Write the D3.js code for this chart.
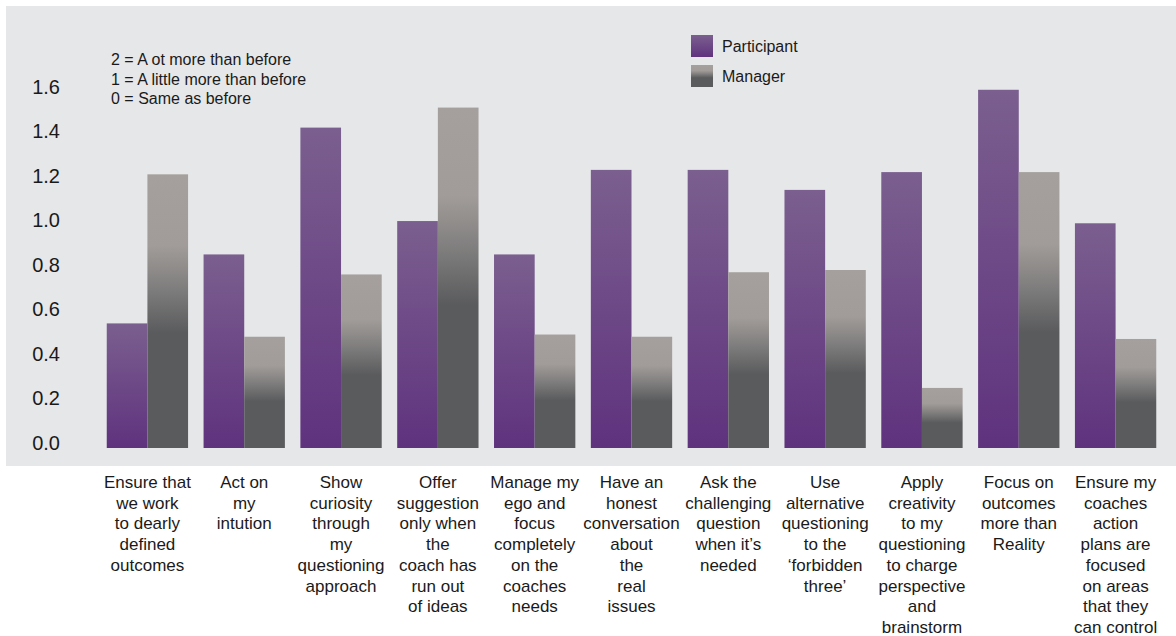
<!DOCTYPE html>
<html>
<head>
<meta charset="utf-8">
<script src="https://cdn.jsdelivr.net/npm/d3@7"></script>
<style>
  body { margin: 0; background: #ffffff; }
  text { font-family: "Liberation Sans", Arial, Helvetica, sans-serif; fill: #1a1a1a; }
</style>
</head>
<body>
<div id="chart"></div>
<script>
// category labels, already broken into lines as in the original
var categories = [
    ["Ensure that", "we work", "to dearly", "defined", "outcomes"],
    ["Act on", "my", "intution"],
    ["Show", "curiosity", "through", "my", "questioning", "approach"],
    ["Offer", "suggestion", "only when", "the", "coach has", "run out", "of ideas"],
    ["Manage my", "ego and", "focus", "completely", "on the", "coaches", "needs"],
    ["Have an", "honest", "conversation", "about", "the", "real", "issues"],
    ["Ask the", "challenging", "question", "when it\u2019s", "needed"],
    ["Use", "alternative", "questioning", "to the", "\u2018forbidden", "three\u2019"],
    ["Apply", "creativity", "to my", "questioning", "to charge", "perspective", "and", "brainstorm"],
    ["Focus on", "outcomes", "more than", "Reality"],
    ["Ensure my", "coaches", "action", "plans are", "focused", "on areas", "that they", "can control"]
];
var participant = [0.56, 0.87, 1.44, 1.02, 0.87, 1.25, 1.25, 1.16, 1.24, 1.61, 1.01];
var manager = [1.23, 0.50, 0.78, 1.53, 0.51, 0.50, 0.79, 0.80, 0.27, 1.24, 0.49];
var seriesNames = ["Participant", "Manager"];
var yTicks = [0, 0.2, 0.4, 0.6, 0.8, 1.0, 1.2, 1.4, 1.6];
var notes = ["2 = A ot more than before", "1 = A little more than before", "0 = Same as before"];

var width = 1176;
var height = 636;

var svg = d3.select("#chart")
    .append("svg")
    .attr("width", width)
    .attr("height", height);

var defs = svg.append("defs");
var gp = defs.append("linearGradient").attr("id", "gradP")
    .attr("x1", 0).attr("y1", 0).attr("x2", 0).attr("y2", 1);
gp.append("stop").attr("offset", "0%").attr("stop-color", "#7b5f8f");
gp.append("stop").attr("offset", "100%").attr("stop-color", "#5f327e");

var gm = defs.append("linearGradient").attr("id", "gradM")
    .attr("x1", 0).attr("y1", 0).attr("x2", 0).attr("y2", 1);
gm.append("stop").attr("offset", "0%").attr("stop-color", "#a5a09d");
gm.append("stop").attr("offset", "26%").attr("stop-color", "#a19c99");
gm.append("stop").attr("offset", "43%").attr("stop-color", "#7c7b7b");
gm.append("stop").attr("offset", "58%").attr("stop-color", "#5a5b5d");
gm.append("stop").attr("offset", "100%").attr("stop-color", "#5a5b5d");

var fills = ["url(#gradP)", "url(#gradM)"];

// grey plot panel
svg.append("rect")
    .attr("x", 6).attr("y", 6)
    .attr("width", width - 6).attr("height", 460)
    .attr("fill", "#e6e7e9");

var x = d3.scaleBand()
    .domain(d3.range(categories.length))
    .range([99, 1164])
    .paddingInner(0.16)
    .paddingOuter(0.08);

var x1 = d3.scaleBand()
    .domain([0, 1])
    .range([0, x.bandwidth()]);

var y = d3.scaleLinear()
    .domain([0, 1.6])
    .range([448, 92]);

// y axis labels only, no line
var yAxis = svg.append("g")
    .attr("transform", "translate(60,-5)")
    .call(d3.axisLeft(y).tickValues(yTicks).tickSize(0).tickPadding(0).tickFormat(d3.format(".1f")));
yAxis.select(".domain").remove();
yAxis.selectAll("text")
    .style("font-size", "20px")
    .style("font-family", "\"Liberation Sans\", Arial, sans-serif")
    .attr("fill", "#1a1a1a");

var groups = svg.selectAll("g.group")
    .data(categories.map(function (c, i) { return [participant[i], manager[i]]; }))
    .enter()
    .append("g")
    .attr("class", "group")
    .attr("transform", function (d, i) { return "translate(" + x(i) + ",0)"; });

groups.selectAll("rect")
    .data(function (d) { return d; })
    .enter()
    .append("rect")
    .attr("x", function (d, j) { return x1(j); })
    .attr("y", function (d) { return y(d); })
    .attr("width", x1.bandwidth())
    .attr("height", function (d) { return y(0) - y(d); })
    .attr("fill", function (d, j) { return fills[j]; });

// category labels under the panel
var labels = svg.selectAll("text.cat")
    .data(categories)
    .enter()
    .append("text")
    .attr("class", "cat")
    .attr("text-anchor", "middle")
    .style("font-size", "17px")
    .attr("x", function (d, i) { return x(i) + x.bandwidth() / 2; })
    .attr("y", 488);
labels.selectAll("tspan")
    .data(function (d) { return d; })
    .enter()
    .append("tspan")
    .attr("x", function () { return d3.select(this.parentNode).attr("x"); })
    .attr("dy", function (d, k) { return k === 0 ? 0 : 20.7; })
    .text(function (d) { return d; });

// scale notes
svg.selectAll("text.note")
    .data(notes)
    .enter()
    .append("text")
    .attr("class", "note")
    .attr("x", 111)
    .attr("y", function (d, i) { return 65 + i * 19.5; })
    .style("font-size", "16px")
    .text(function (d) { return d; });

// legend
var legend = svg.selectAll("g.legend")
    .data(seriesNames)
    .enter()
    .append("g")
    .attr("class", "legend")
    .attr("transform", function (d, i) { return "translate(691," + (35 + i * 30) + ")"; });
legend.append("rect")
    .attr("width", 22).attr("height", 22)
    .attr("fill", function (d, i) { return fills[i]; });
legend.append("text")
    .attr("x", 31).attr("y", 17)
    .style("font-size", "16px")
    .text(function (d) { return d; });
</script>
</body>
</html>
